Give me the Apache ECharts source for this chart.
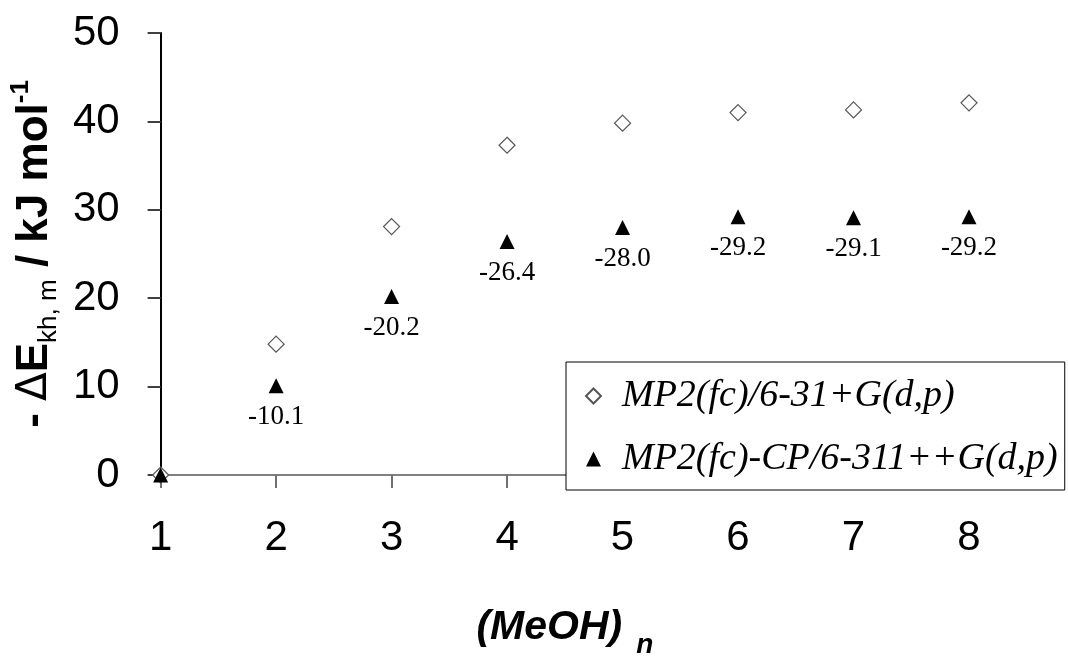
<!DOCTYPE html>
<html>
<head>
<meta charset="utf-8">
<script src="https://cdn.jsdelivr.net/npm/echarts@6/dist/echarts.min.js"></script>
<style>
  html, body { margin: 0; padding: 0; background: #ffffff; }
  #chart { width: 1068px; height: 664px; }
</style>
</head>
<body>
<div id="chart"></div>
<script>
// ---- data ----
var clusterSizes = [1, 2, 3, 4, 5, 6, 7, 8];
var mp2Values = [0, 14.8, 28.1, 37.3, 39.8, 41.0, 41.3, 42.1];
var cpValues = [0, 10.1, 20.2, 26.4, 28.0, 29.2, 29.1, 29.2];
var cpLabels = ['', '-10.1', '-20.2', '-26.4', '-28.0', '-29.2', '-29.1', '-29.2'];
var seriesNames = ['MP2(fc)/6-31+G(d,p)', 'MP2(fc)-CP/6-311++G(d,p)'];
var yMin = 0, yMax = 50, yStep = 10;

function pairs(xs, ys) {
  return xs.map(function (x, i) { return [x, ys[i]]; });
}

var chart = echarts.init(document.getElementById('chart'), null, { renderer: 'canvas' });

var option = {
  backgroundColor: '#ffffff',
  animation: false,
  grid: { left: 145, right: 99, top: 33, bottom: 164, containLabel: false },
  xAxis: {
    type: 'value',
    min: 1, max: 8, interval: 1,
    axisLine: { show: true, onZero: false, lineStyle: { color: '#808080', width: 2 } },
    axisTick: { show: true, inside: false, length: 13, lineStyle: { color: '#707070', width: 2 } },
    axisLabel: { margin: 42, fontFamily: 'Liberation Sans', fontSize: 42, color: '#000' },
    splitLine: { show: false },
    name: '{a|(MeOH)}{s|n}',
    nameLocation: 'middle',
    nameGap: 132,
    nameTextStyle: {
      rich: {
        a: { fontFamily: 'Liberation Sans', fontWeight: 'bold', fontStyle: 'italic', fontSize: 41, color: '#000', lineHeight: 52, verticalAlign: 'top' },
        s: { fontFamily: 'Liberation Sans', fontWeight: 'bold', fontStyle: 'italic', fontSize: 28, color: '#000', lineHeight: 28, verticalAlign: 'bottom', padding: [0, 0, 0, 14] }
      }
    }
  },
  yAxis: {
    type: 'value',
    min: yMin, max: yMax, interval: yStep,
    axisLine: { show: true, lineStyle: { color: '#000', width: 2 } },
    axisTick: { show: true, inside: false, length: 13, lineStyle: { color: '#404040', width: 2 } },
    axisLabel: { margin: 41, fontFamily: 'Liberation Sans', fontSize: 42, color: '#000' },
    splitLine: { show: false },
    name: '{a|- }{d|Δ}{a|E}{s|kh, m}{a| / kJ mol}{p|-1}',
    nameLocation: 'middle',
    nameRotate: 90,
    nameGap: 84,
    nameTextStyle: {
      rich: {
        a: { fontFamily: 'Liberation Sans', fontWeight: 'bold', fontSize: 44, color: '#000', lineHeight: 54, verticalAlign: 'middle' },
        d: { fontFamily: 'DejaVu Sans', fontWeight: 'normal', fontSize: 42, color: '#000', lineHeight: 54, verticalAlign: 'middle' },
        s: { fontFamily: 'Liberation Sans', fontWeight: 'normal', fontSize: 26, color: '#000', lineHeight: 26, verticalAlign: 'bottom' },
        p: { fontFamily: 'Liberation Sans', fontWeight: 'bold', fontSize: 26, color: '#000', lineHeight: 26, verticalAlign: 'top' }
      }
    }
  },
  legend: {
    orient: 'vertical',
    left: 566,
    top: 362,
    padding: [15, 7, 12, 19],
    itemGap: 25,
    itemWidth: 15,
    itemHeight: 15,
    borderColor: '#000',
    borderWidth: 1,
    backgroundColor: '#fff',
    textStyle: { fontFamily: 'Liberation Serif', fontStyle: 'italic', fontSize: 38, color: '#000', padding: [0, 0, 0, 16] },
    data: seriesNames
  },
  series: [
    {
      name: seriesNames[0],
      type: 'scatter',
      symbol: 'diamond',
      symbolSize: 16,
      itemStyle: { color: '#ffffff', borderColor: '#555555', borderWidth: 1.2, opacity: 1 },
      data: pairs(clusterSizes, mp2Values),
      z: 2
    },
    {
      name: seriesNames[1],
      type: 'scatter',
      symbol: 'triangle',
      symbolSize: 15,
      itemStyle: { color: '#000000', opacity: 1 },
      label: {
        show: true,
        position: 'bottom',
        distance: 10,
        fontFamily: 'Liberation Serif',
        fontSize: 27,
        color: '#000',
        formatter: function (p) { return cpLabels[p.dataIndex]; }
      },
      data: pairs(clusterSizes, cpValues),
      z: 3
    }
  ]
};

chart.setOption(option);
</script>
</body>
</html>
